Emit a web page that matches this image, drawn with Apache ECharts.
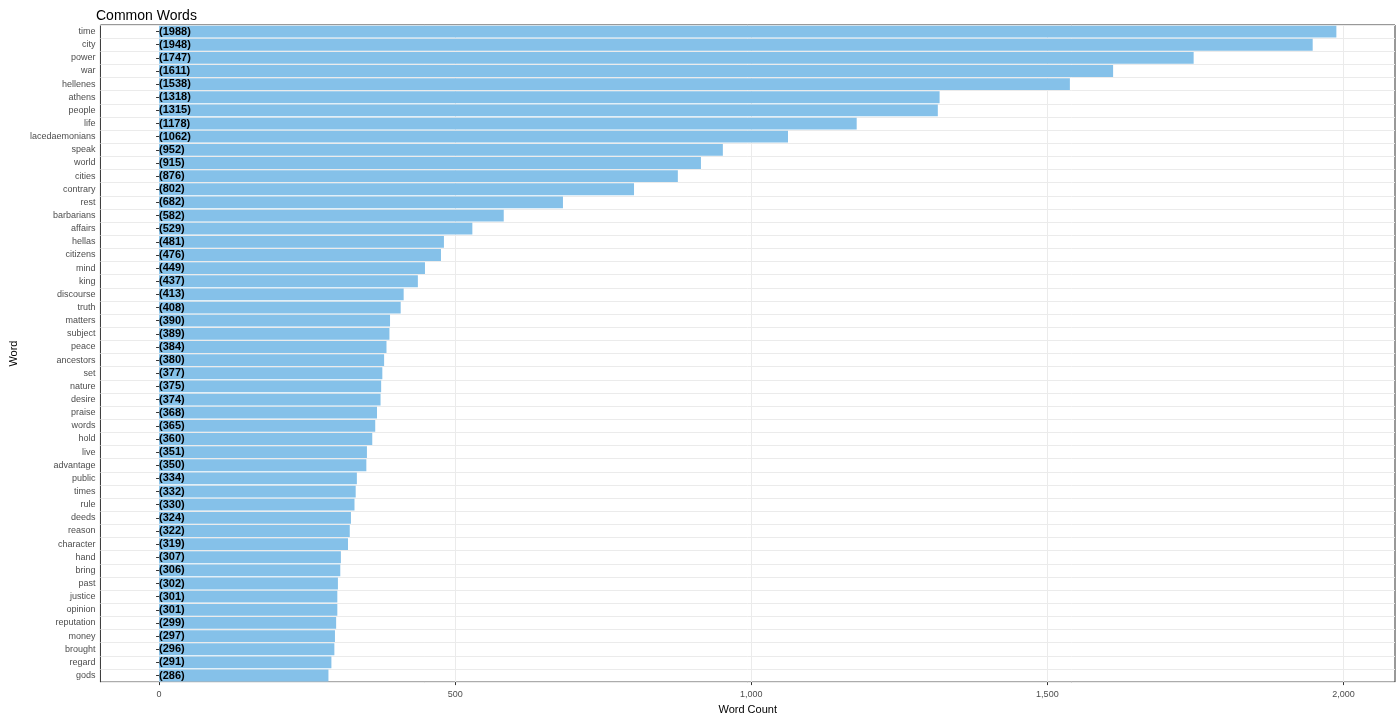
<!DOCTYPE html>
<html><head><meta charset="utf-8">
<script src="https://cdn.jsdelivr.net/npm/echarts@6/dist/echarts.min.js"></script>
<style>html,body{margin:0;padding:0;background:#fff}#c{width:1400px;height:720px}</style>
</head><body><div id="c"></div>
<script>
const words = ["time","city","power","war","hellenes","athens","people","life","lacedaemonians","speak","world","cities","contrary","rest","barbarians","affairs","hellas","citizens","mind","king","discourse","truth","matters","subject","peace","ancestors","set","nature","desire","praise","words","hold","live","advantage","public","times","rule","deeds","reason","character","hand","bring","past","justice","opinion","reputation","money","brought","regard","gods"];
const counts = [1988,1948,1747,1611,1538,1318,1315,1178,1062,952,915,876,802,682,582,529,481,476,449,437,413,408,390,389,384,380,377,375,374,368,365,360,351,350,334,332,330,324,322,319,307,306,302,301,301,299,297,296,291,286];
const xTicks = [0,500,1000,1500,2000];
const chart = echarts.init(document.getElementById('c'));
chart.setOption({
  animation:false,
  title:{text:'Common Words',left:91,top:4,textStyle:{fontSize:14,fontWeight:'normal',color:'#000',fontFamily:'Liberation Sans'}},
  grid:{left:91,right:5,top:25,bottom:34,show:true,borderColor:'#333',borderWidth:1},
  xAxis:{type:'value',min:-99,max:2087,name:'Word Count',nameLocation:'middle',nameGap:20,
    nameTextStyle:{fontSize:11,color:'#000',fontFamily:'Liberation Sans'},
    axisLine:{show:false},
    axisTick:{show:true,customValues:xTicks,length:3,lineStyle:{color:'#333'}},
    axisLabel:{customValues:xTicks,fontSize:9,color:'#4d4d4d',fontFamily:'Liberation Sans'},
    splitLine:{show:true,lineStyle:{color:'#ebebeb'}}},
  yAxis:{type:'category',data:words,inverse:true,name:'Word',nameLocation:'middle',nameGap:78,nameRotate:90,
    nameTextStyle:{fontSize:11,color:'#000',fontFamily:'Liberation Sans'},
    axisLine:{show:false},axisTick:{show:true,alignWithLabel:true,length:3,lineStyle:{color:'#333'}},
    axisLabel:{fontSize:9,color:'#4d4d4d',margin:5,fontFamily:'Liberation Sans'},
    splitLine:{show:true,lineStyle:{color:'#ebebeb'}}},
  series:[{type:'bar',data:counts,barCategoryGap:'10%',itemStyle:{color:'#85C1E9'},
    label:{show:true,position:'insideLeft',distance:0,formatter:p=>'('+p.value+')',
      fontSize:11,fontWeight:'bold',color:'#000',fontFamily:'Liberation Sans'}}]
});
</script></body></html>
